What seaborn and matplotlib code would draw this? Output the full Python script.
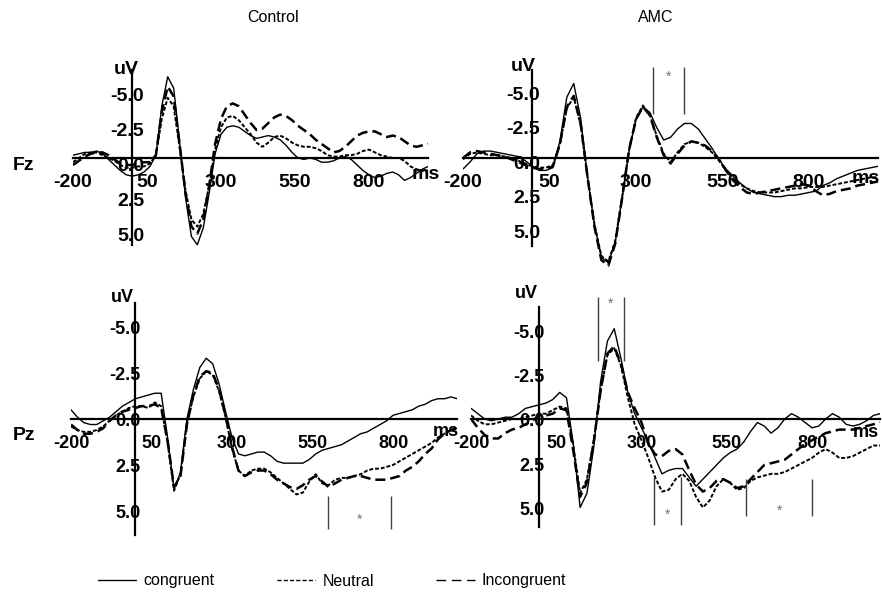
import numpy as np
import pandas as pd
import seaborn as sns
import matplotlib.pyplot as plt
from matplotlib.lines import Line2D
from matplotlib.transforms import offset_copy
from matplotlib import font_manager

# ---- data (uV, negative plotted upwards), sampled every 20 ms ----
times = np.arange(-200, 1001, 20)
conditions = ["congruent", "Neutral", "Incongruent"]
groups = ["Control", "AMC"]
sites = ["Fz", "Pz"]

ctrl_fz_con = [-0.2, -0.3, -0.4, -0.4, -0.5, -0.3, 0.1, 0.5, 0.9, 1.2,
               1.3, 1.2, 1.0, 0.6, -0.2, -3.7, -5.8, -5.0, -1.2, 2.8,
               5.6, 6.2, 5.0, 2.5, -0.3, -1.7, -2.2, -2.3, -2.2, -1.9,
               -1.6, -1.4, -1.5, -1.6, -1.5, -1.3, -0.9, -0.4, 0.0, 0.1,
               0.0, 0.1, 0.3, 0.3, 0.2, 0.0, -0.1, 0.1, 0.5, 0.9,
               1.2, 1.4, 1.3, 1.1, 1.0, 1.2, 1.6, 1.4, 1.1, 0.8,
               0.6]
ctrl_fz_neu = [0.3, 0.0, -0.3, -0.4, -0.4, -0.2, 0.0, 0.2, 0.5, 0.7,
               0.7, 0.6, 0.6, 0.4, -0.2, -2.8, -4.3, -3.7, -0.8, 2.3,
               4.4, 4.9, 4.0, 2.0, -0.6, -2.2, -2.9, -3.0, -2.7, -2.2,
               -1.7, -1.1, -0.8, -1.1, -1.5, -1.6, -1.4, -1.1, -0.9, -0.8,
               -0.8, -0.7, -0.5, -0.2, -0.1, -0.1, -0.2, -0.2, -0.3, -0.5,
               -0.6, -0.4, -0.2, -0.1, 0.0, 0.0, 0.2, 0.6, 0.8, 0.9,
               0.9]
ctrl_fz_inc = [0.5, 0.2, -0.1, -0.3, -0.4, -0.4, -0.2, 0.1, 0.4, 0.5,
               0.5, 0.4, 0.3, 0.3, -0.2, -3.3, -5.1, -4.4, -1.0, 2.5,
               4.9, 5.4, 4.4, 2.0, -1.0, -2.8, -3.7, -3.9, -3.7, -3.1,
               -2.5, -2.0, -2.1, -2.5, -2.9, -3.1, -3.0, -2.7, -2.3, -2.0,
               -1.7, -1.3, -1.0, -0.7, -0.4, -0.5, -0.8, -1.2, -1.6, -1.8,
               -1.9, -1.9, -1.7, -1.5, -1.6, -1.5, -1.2, -0.9, -0.8, -0.9,
               -1.0]

amc_fz_con = [0.8, 0.3, -0.3, -0.5, -0.5, -0.4, -0.3, -0.2, -0.1, 0.2,
              0.6, 0.9, 0.9, 0.7, -1.2, -4.4, -5.4, -2.9, 1.4, 4.9,
              7.2, 7.6, 6.1, 2.9, -0.5, -2.8, -3.7, -3.3, -2.2, -1.3,
              -1.5, -2.1, -2.5, -2.5, -2.1, -1.4, -0.7, 0.1, 0.8, 1.3,
              1.8, 2.2, 2.5, 2.6, 2.7, 2.8, 2.8, 2.7, 2.7, 2.6,
              2.5, 2.4, 2.0, 1.8, 1.5, 1.3, 1.1, 0.9, 0.8, 0.7,
              0.6]
amc_fz_neu = [0.1, -0.3, -0.4, -0.3, -0.2, -0.2, -0.1, 0.0, 0.2, 0.4,
              0.6, 0.7, 0.7, 0.5, -1.0, -3.6, -4.4, -2.4, 1.4, 4.8,
              7.1, 7.5, 6.0, 2.8, -0.6, -2.9, -3.8, -3.1, -1.6, -0.3,
              0.3, -0.4, -1.0, -1.2, -1.1, -0.8, -0.4, 0.2, 0.9, 1.5,
              1.9, 2.2, 2.4, 2.5, 2.5, 2.5, 2.4, 2.3, 2.2, 2.2,
              2.1, 2.1, 2.1, 2.0, 1.9, 1.8, 1.7, 1.6, 1.5, 1.4,
              1.4]
amc_fz_inc = [0.0, -0.4, -0.5, -0.4, -0.3, -0.2, -0.1, 0.1, 0.3, 0.5,
              0.7, 0.8, 0.8, 0.6, -1.0, -3.7, -4.5, -2.5, 1.4, 5.0,
              7.4, 7.8, 6.2, 2.9, -0.6, -2.8, -3.7, -3.1, -1.5, -0.2,
              0.4, -0.3, -0.9, -1.2, -1.1, -0.9, -0.5, 0.1, 0.9, 1.6,
              2.1, 2.5, 2.6, 2.5, 2.4, 2.3, 2.2, 2.1, 2.0, 1.9,
              2.0, 2.4, 2.7, 2.6, 2.4, 2.3, 2.2, 2.0, 1.9, 1.8,
              1.7]

ctrl_pz_con = [-0.5, -0.1, 0.2, 0.3, 0.3, 0.1, -0.1, -0.4, -0.7, -0.9,
               -1.1, -1.2, -1.3, -1.4, -1.4, 1.0, 3.8, 2.9, 0.0, -1.6,
               -2.8, -3.3, -3.0, -1.9, -0.4, 1.0, 1.9, 2.0, 1.9, 1.8,
               1.8, 2.0, 2.3, 2.4, 2.4, 2.4, 2.4, 2.2, 1.9, 1.7,
               1.6, 1.5, 1.4, 1.2, 1.0, 0.8, 0.7, 0.5, 0.3, 0.1,
               -0.2, -0.3, -0.4, -0.5, -0.7, -0.8, -1.0, -1.1, -1.1, -1.2,
               -1.1]
ctrl_pz_neu = [0.4, 0.6, 0.7, 0.7, 0.6, 0.4, 0.1, -0.2, -0.4, -0.6,
               -0.7, -0.7, -0.6, -0.9, -0.7, 1.3, 3.9, 3.0, 0.2, -1.2,
               -2.2, -2.6, -2.4, -1.5, -0.1, 1.6, 2.8, 3.1, 2.8, 2.7,
               2.7, 2.9, 3.2, 3.5, 3.8, 4.1, 4.0, 3.4, 3.0, 3.5,
               3.6, 3.3, 3.2, 3.2, 3.1, 3.0, 2.8, 2.7, 2.7, 2.6,
               2.5, 2.3, 2.1, 1.9, 1.7, 1.5, 1.3, 1.0, 0.8, 0.6,
               0.5]
ctrl_pz_inc = [0.3, 0.6, 0.8, 0.8, 0.7, 0.5, 0.1, -0.2, -0.4, -0.5,
               -0.6, -0.7, -0.7, -0.8, -0.6, 1.2, 3.7, 3.1, 0.3, -1.3,
               -2.3, -2.6, -2.5, -1.6, -0.2, 1.5, 2.8, 3.1, 2.9, 2.8,
               2.8, 3.0, 3.3, 3.5, 3.7, 3.8, 3.6, 3.3, 3.1, 3.4,
               3.7, 3.5, 3.3, 3.2, 3.1, 3.1, 3.2, 3.3, 3.3, 3.3,
               3.2, 3.1, 2.8, 2.6, 2.3, 1.9, 1.6, 1.1, 0.8, 0.6,
               0.5]

amc_pz_con = [-0.6, -0.3, 0.0, 0.1, 0.0, -0.1, -0.1, -0.3, -0.6, -0.7,
              -0.8, -0.9, -1.1, -1.5, -1.2, 1.4, 5.0, 4.2, 1.6, -2.1,
              -4.4, -5.1, -3.4, -1.5, -0.3, 0.5, 1.3, 2.2, 3.1, 2.9,
              2.8, 2.8, 3.3, 3.8, 3.4, 3.0, 2.6, 2.2, 1.9, 1.7,
              1.3, 0.7, 0.2, 0.4, 0.8, 0.5, 0.0, -0.3, -0.1, 0.2,
              0.5, 0.4, 0.0, -0.3, -0.1, 0.3, 0.4, 0.3, 0.1, -0.2,
              -0.3]
amc_pz_neu = [-0.2, 0.1, 0.3, 0.3, 0.2, 0.1, 0.0, 0.0, -0.1, -0.2,
              -0.3, -0.3, -0.5, -0.7, -0.6, 1.5, 4.2, 3.4, 1.2, -1.6,
              -3.6, -4.0, -3.0, -1.2, 0.3, 1.2, 2.2, 3.3, 4.1, 4.0,
              3.4, 3.1, 3.5, 4.4, 5.0, 4.6, 3.8, 3.4, 3.6, 4.0,
              3.9, 3.5, 3.3, 3.2, 3.1, 3.1, 3.0, 2.8, 2.6, 2.4,
              2.2, 1.9, 1.7, 1.9, 2.2, 2.2, 2.1, 1.9, 1.7, 1.5,
              1.5]
amc_pz_inc = [0.0, 0.5, 0.9, 1.1, 1.1, 0.8, 0.6, 0.5, 0.3, 0.1,
              -0.2, -0.2, -0.3, -0.6, -0.5, 1.8, 4.4, 3.6, 1.3, -1.6,
              -3.7, -4.1, -3.1, -1.5, -0.6, 0.2, 1.4, 2.0, 2.1, 1.8,
              1.7, 2.0, 2.9, 3.7, 4.1, 3.9, 3.5, 3.4, 3.6, 3.9,
              3.8, 3.4, 3.0, 2.6, 2.5, 2.4, 2.3, 2.0, 1.7, 1.4,
              1.2, 1.0, 0.8, 0.7, 0.6, 0.6, 0.6, 0.5, 0.4, 0.3,
              0.2]

waves = {
    ("Control", "Fz"): [ctrl_fz_con, ctrl_fz_neu, ctrl_fz_inc],
    ("AMC", "Fz"): [amc_fz_con, amc_fz_neu, amc_fz_inc],
    ("Control", "Pz"): [ctrl_pz_con, ctrl_pz_neu, ctrl_pz_inc],
    ("AMC", "Pz"): [amc_pz_con, amc_pz_neu, amc_pz_inc],
}

# significant time windows (ms)
sig_windows = {
    ("AMC", "Fz"): [(350, 439)],
    ("Control", "Pz"): [(599, 795)],
    ("AMC", "Pz"): [(172, 249), (337, 416), (607, 801)],
}

xticks = [-200, 50, 300, 550, 800]
xtick_labels = ["-200", "50", "300", "550", "800"]
yticks = [-5, -2.5, 0, 2.5, 5]
ytick_labels = ["-5.0", "-2.5", "0.0", "2.5", "5.0"]

rows = []
for (grp, site), series in waves.items():
    for cond, vals in zip(conditions, series):
        for t, v in zip(times, vals):
            rows.append((grp, site, cond, t, v))
df = pd.DataFrame(rows, columns=["group", "site", "condition", "ms", "uV"])

# ---- style / layout ----
sns.set_theme(style="white")
plt.rcParams["font.family"] = ["Liberation Sans", "DejaVu Sans"]
plt.rcParams["text.color"] = "black"
plt.rcParams["xtick.labelcolor"] = "black"

names = {f.name for f in font_manager.fontManager.ttflist}
if "Liberation Sans Narrow" in names:
    text_family, text_size = "Liberation Sans Narrow", 13.5
else:
    text_family, text_size = "Liberation Sans", 11.5

W, H = 882, 598
fig = plt.figure(figsize=(W / 100, H / 100), dpi=100)

# pixel boxes (x0, x1, y0, y1) and per-panel cosmetics
layout = {
    ("Control", "Fz"): dict(box=(73, 428.2, 57.2, 270), ylim=(8, -7.2), spine=(-6.3, 6.2),
                            ydx=12, ydy=8.5, fs=14, uv=(-6, 0), ms=(993, 17),
                            sig=[]),
    ("AMC", "Fz"): dict(box=(463, 878.2, 58.6, 275.3), ylim=(8.5, -7.2), spine=(-6.4, 6.4),
                        ydx=8, ydy=6.5, fs=14, uv=(-9, -3), ms=(965, 21),
                        sig=[(-6.6, -3.2, -5.9)]),
    ("Control", "Pz"): dict(box=(71, 457.4, 286.5, 547.8), ylim=(7, -7.2), spine=(-6.3, 6.3),
                            ydx=5, ydy=3, fs=13, uv=(-13, -6), ms=(963, 13),
                            sig=[(4.2, 6.0, 5.5)]),
    ("AMC", "Pz"): dict(box=(471, 880.2, 286.2, 542.9), ylim=(7, -7.5), spine=(-6.3, 6.1),
                        ydx=5, ydy=3, fs=13, uv=(-13, -14), ms=(959, 14),
                        sig=[(-6.9, -3.3, -6.5), (3.3, 6.0, 5.4), (3.4, 5.5, 5.2)]),
}

dash_map = {"congruent": "", "Neutral": (2, 1), "Incongruent": (4, 2)}
width_map = {"congruent": 1.0, "Neutral": 1.4, "Incongruent": 1.8}

for (grp, site), cfg in layout.items():
    x0, x1, y0, y1 = cfg["box"]
    ax = fig.add_axes([x0 / W, 1 - y1 / H, (x1 - x0) / W, (y1 - y0) / H])
    ax.patch.set_visible(False)
    sub = df[(df["group"] == grp) & (df["site"] == site)]
    sns.lineplot(data=sub, x="ms", y="uV", style="condition", size="condition",
                 style_order=conditions, size_order=conditions,
                 dashes=dash_map, sizes=width_map, color="black",
                 errorbar=None, legend=False, ax=ax)
    ax.set_xlim(-200, 1000)
    ax.set_ylim(*cfg["ylim"])
    ax.set_xlabel("")
    ax.set_ylabel("")
    for s in ["top", "right"]:
        ax.spines[s].set_visible(False)
    for s in ["left", "bottom"]:
        ax.spines[s].set_position(("data", 0))
        ax.spines[s].set_color("black")
        ax.spines[s].set_linewidth(1.6)
    ax.spines["left"].set_bounds(*cfg["spine"])
    ax.set_yticks([])
    ax.set_xticks(xticks, labels=xtick_labels)
    ax.tick_params(axis="x", direction="inout", length=9, width=0.9,
                   color="0.7", labelcolor="black", pad=7)
    plt.setp(ax.get_xticklabels(), fontweight="bold", fontsize=cfg["fs"])

    ytrans = offset_copy(ax.transData, fig=fig, x=cfg["ydx"], y=-cfg["ydy"], units="dots")
    for v, lab in zip(yticks, ytick_labels):
        ax.text(0, v, lab, transform=ytrans, ha="right", va="center",
                fontweight="bold", fontsize=cfg["fs"], color="black")

    ux, uy = cfg["uv"]
    ax.annotate("uV", xy=(0, cfg["spine"][0]), xytext=(ux * 0.72, -uy * 0.72),
                textcoords="offset points", ha="center", va="center",
                fontweight="bold", fontsize=cfg["fs"], color="black")
    mx, my = cfg["ms"]
    ax.annotate("ms", xy=(mx, 0), xytext=(0, -my * 0.72), textcoords="offset points",
                ha="center", va="center", fontweight="bold", fontsize=cfg["fs"],
                color="black")

    for (t0, t1), (ytop, ybot, ystar) in zip(sig_windows.get((grp, site), []), cfg["sig"]):
        ax.vlines([t0, t1], ytop, ybot, color="0.25", lw=1.0)
        ax.text((t0 + t1) / 2, ystar, "*", ha="center", va="center",
                color="0.45", fontsize=10)

# column / row labels
fig.text(273 / W, 1 - 18 / H, "Control", ha="center", va="center",
         family=text_family, fontsize=text_size, color="black")
fig.text(656 / W, 1 - 18 / H, "AMC", ha="center", va="center",
         family=text_family, fontsize=text_size, color="black")
fig.text(24 / W, 1 - 166 / H, "Fz", ha="center", va="center", fontweight="bold",
         fontsize=14, color="black")
fig.text(24 / W, 1 - 435 / H, "Pz", ha="center", va="center", fontweight="bold",
         fontsize=14, color="black")

handles = [
    Line2D([], [], color="black", lw=1.0, ls="-"),
    Line2D([], [], color="black", lw=1.0, ls=(0, (3, 1.5))),
    Line2D([], [], color="black", lw=1.0, ls=(0, (7, 4))),
]
leg = fig.legend(handles, conditions, loc="center left", bbox_to_anchor=(98 / W, 1 - 581 / H),
                 ncol=3, frameon=False, handlelength=2.4, handletextpad=0.45,
                 columnspacing=3.9, borderpad=0, borderaxespad=0,
                 prop=dict(family=text_family, size=text_size))
for txt in leg.get_texts():
    txt.set_color("black")

fig.savefig("out.png", dpi=100)
